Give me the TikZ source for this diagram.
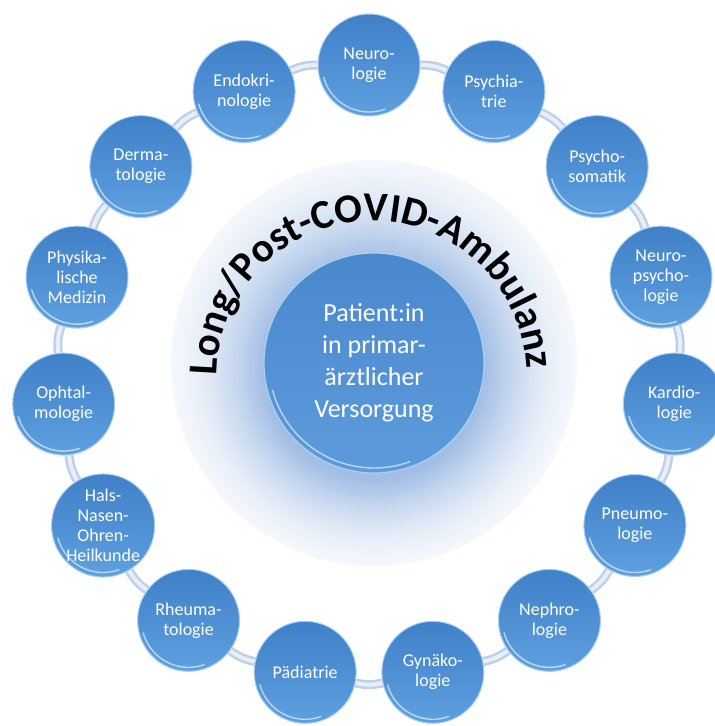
\documentclass[tikz,border=0pt]{standalone}
\usepackage{fontspec}
\setmainfont{Carlito}
\usetikzlibrary{backgrounds,decorations.text}

\definecolor{specTop}{HTML}{3F80C8}
\definecolor{specBot}{HTML}{5FA0E0}
\definecolor{specRim}{HTML}{A9D0F2}
\definecolor{hubTop}{HTML}{4A88CE}
\definecolor{hubBot}{HTML}{5C9BDB}
\definecolor{ringDark}{HTML}{BFCFE7}
\definecolor{ringLight}{HTML}{E8EFF8}
\definecolor{haloIn}{HTML}{A3BEE5}

\newcommand\bannerfont{\fontsize{41}{41}\selectfont\bfseries}

\tikzset{
  glint/.style={path picture={\draw[white, opacity=.6, line width=1.4pt]
      ([shift={(195:#1)}]path picture bounding box.center) arc[start angle=195, end angle=290, radius=#1];}},
  spec/.style={circle, minimum size=102pt, inner sep=0pt, draw=specRim, line width=1pt,
    top color=specTop, bottom color=specBot, text=white, align=center,
    font=\fontsize{18}{20}\selectfont, glint=47pt},
  hub/.style={circle, minimum size=220pt, inner sep=0pt, draw=specRim, line width=1.2pt,
    top color=hubTop, bottom color=hubBot, text=white, align=center,
    font=\fontsize{26}{32}\selectfont, glint=105pt},
  ringline/.style={draw=ringDark, line width=2.5pt, double=ringLight, double distance=4pt},
  banner/.style={decorate, decoration={text along path, text align=center,
      text color=#1, text={|\bannerfont|Long/Post-COVID-Ambulanz}}}
}

\begin{document}
\begin{tikzpicture}[x=1pt, y=1pt]
    \useasboundingbox (0,0) rectangle (715,726);
    \coordinate (ring) at (369,354);
    \coordinate (hubc) at (374,363);
    \coordinate (arcc) at (372,350);

    % Halo, fading out to white
    \foreach \k in {0,...,46} {
      \pgfmathsetmacro\rad{203-2*\k}
      \pgfmathsetmacro\mix{12+88*(\k/46)^1.5}
      \fill[haloIn!\mix!white] ([yshift=-0.15*\k]hubc) circle[radius=\rad];
    }

    % Specialties
    \foreach \ang/\nm/\txt in {90/neuro/{Neuro-\\logie}, 66/psychia/{Psychia-\\trie},
        42/psychosom/{Psycho-\\somatik}, 18/neuropsy/{Neuro-\\psycho-\\logie},
        -6/kardio/{Kardio-\\logie}, -30/pneumo/{Pneumo-\\logie},
        -54/nephro/{Nephro-\\logie}, -78/gyn/{Gynäko-\\logie},
        -102/paed/{Pädiatrie}, -126/rheuma/{Rheuma-\\tologie},
        -150/hno/{Hals-\\Nasen-\\Ohren-\\Heilkunde}, -174/ophtal/{Ophtal-\\mologie},
        162/physik/{Physika-\\lische\\Medizin}, 138/derma/{Derma-\\tologie},
        114/endo/{Endokri-\\nologie}}
      \node[spec] (\nm) at ([shift={(\ang:307pt)}]ring) {\txt};

    % Connections around the ring
    \begin{scope}[on background layer]
      \foreach \p/\q in {neuro/psychia, psychia/psychosom, psychosom/neuropsy,
          neuropsy/kardio, kardio/pneumo, pneumo/nephro, nephro/gyn, gyn/paed,
          paed/rheuma, rheuma/hno, hno/ophtal, ophtal/physik, physik/derma,
          derma/endo, endo/neuro}
        \draw[ringline] (\p) to[bend left=12] (\q);
    \end{scope}

    % Centre
    \node[hub] (hub) at (hubc) {Patient:in\\in primar-\\ärztlicher\\Versorgung};

    % Banner
    \path[banner=black] ([shift={(178.5:155pt)}]arcc)
      arc[start angle=178.5, end angle=4, radius=155pt];
\end{tikzpicture}
\end{document}
